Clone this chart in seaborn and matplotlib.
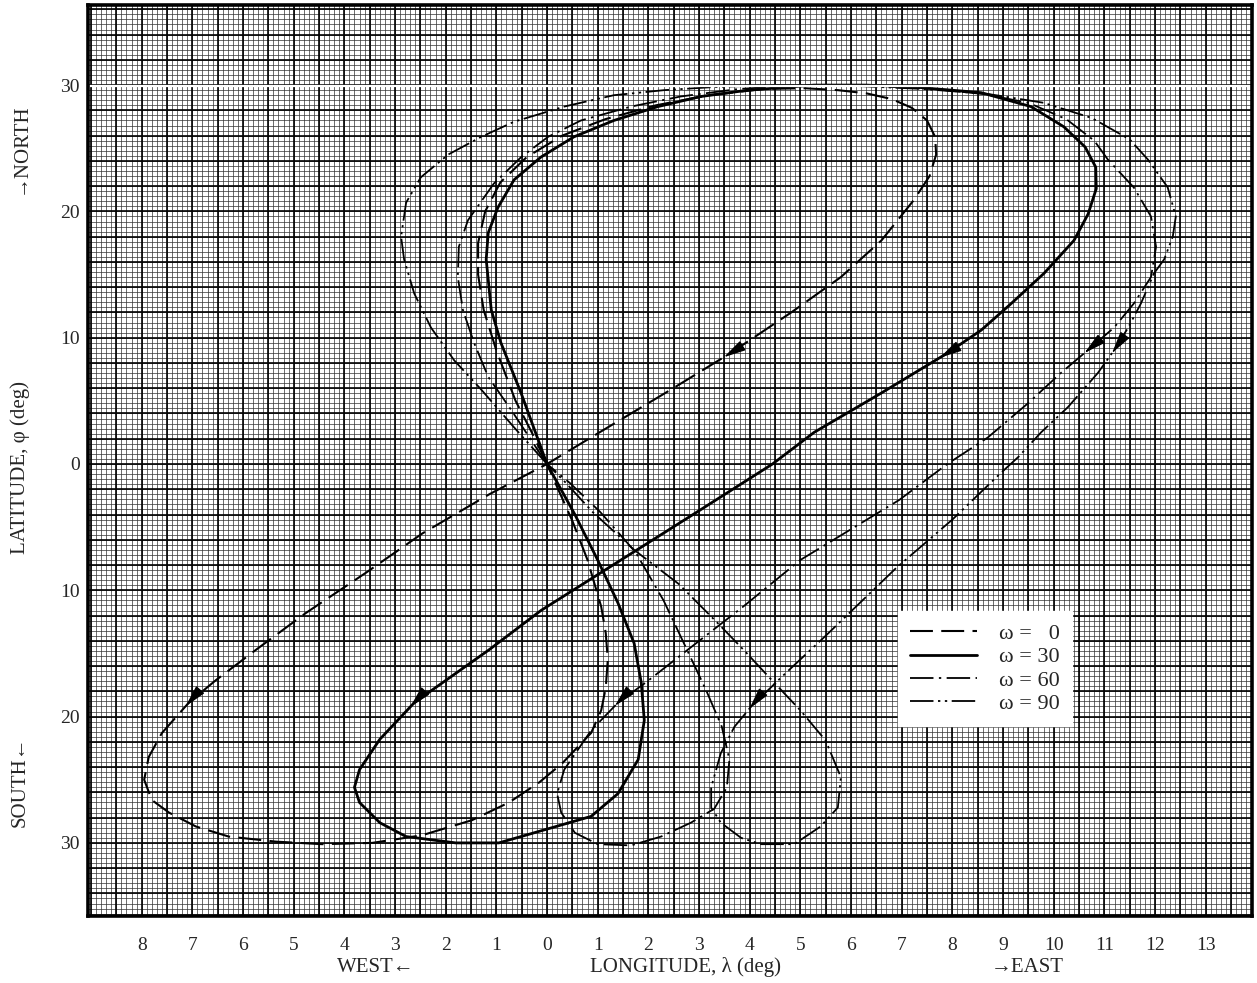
import numpy as np
import pandas as pd
import seaborn as sns
import matplotlib
matplotlib.use("Agg")
import matplotlib.pyplot as plt
from matplotlib.lines import Line2D
from matplotlib.ticker import FuncFormatter

# ground tracks: (longitude deg, east +), (latitude deg)
w0 = [(0, 0), (-0.3, 2.5), (-0.62, 5.0), (-1.0, 9.0), (-1.25, 12.2), (-1.36, 15.0),
      (-1.36, 17.5), (-1.22, 20.0), (-0.92, 22.3), (-0.4, 24.3), (0.3, 26.0), (1.15, 27.3),
      (2.15, 28.4), (3.2, 29.2), (4.3, 29.7), (5.1, 29.75), (5.74, 29.6), (6.3, 29.35),
      (6.8, 28.9), (7.2, 28.2), (7.5, 27.2), (7.66, 25.9), (7.68, 24.5), (7.55, 22.8),
      (7.24, 20.9), (6.6, 17.7), (5.8, 14.8), (4.82, 12.0), (3.63, 8.8), (2.45, 5.9),
      (1.2, 2.9), (0, 0), (-1.14, -2.4), (-2.46, -5.5), (-3.57, -8.6), (-4.76, -11.8),
      (-5.74, -14.7), (-6.53, -17.1), (-7.07, -18.9), (-7.6, -21.3), (-7.86, -23.2),
      (-7.95, -25.0), (-7.8, -26.6), (-7.46, -27.6), (-6.93, -28.7), (-6.28, -29.5),
      (-5.35, -29.9), (-4.44, -30.1), (-3.45, -30.0), (-2.47, -29.4), (-1.48, -28.2),
      (-0.75, -26.8), (-0.15, -25.2), (0.3, -23.7), (0.87, -21.3), (1.07, -19.5),
      (1.16, -17.7), (1.2, -15.5), (1.16, -13.4), (1.07, -11.3), (0.8, -7.6), (0.5, -4.5),
      (0.22, -2.0), (0, 0)]

w30 = [(0, 0), (-0.51, 5.6), (-0.91, 9.6), (-1.1, 12.2), (-1.2, 16.2), (-1.16, 18.3),
       (-0.97, 20.3), (-0.65, 22.5), (-0.12, 24.3), (0.53, 25.9), (1.32, 27.2), (2.19, 28.3),
       (3.04, 29.1), (3.97, 29.6), (5.27, 30.0), (6.3, 30.0), (7.24, 29.85), (8.57, 29.4),
       (9.55, 28.3), (10.2, 26.7), (10.62, 25.1), (10.83, 23.5), (10.84, 21.8), (10.68, 19.8),
       (10.4, 17.7), (9.81, 15.1), (9.16, 12.7), (8.57, 10.6), (7.91, 8.8), (6.59, 5.6),
       (5.27, 2.5), (4.45, 0.0), (3.04, -3.6), (1.46, -7.6), (-0.12, -11.6), (-1.14, -14.7),
       (-2.62, -18.9), (-3.3, -21.8), (-3.7, -24.2), (-3.8, -25.6), (-3.7, -26.8),
       (-3.3, -28.4), (-2.78, -29.5), (-1.8, -30.0), (-0.95, -30.0), (0.18, -28.7),
       (0.87, -27.9), (1.4, -26.1), (1.8, -23.4), (1.92, -20.3), (1.86, -17.3), (1.72, -14.2),
       (1.4, -11.0), (1.0, -7.6), (0.55, -4.0), (0.22, -1.6), (0, 0)]

w60 = [(0, 0), (-0.71, 4.3), (-1.16, 6.9), (-1.44, 9.6), (-1.66, 12.2), (-1.76, 14.8),
       (-1.74, 17.2), (-1.56, 19.3), (-1.05, 22.2), (-0.51, 24.3), (0.02, 25.9), (0.67, 27.2),
       (1.66, 28.3), (2.64, 29.1), (3.8, 29.7), (5.0, 30.0), (6.3, 29.95), (7.6, 29.7),
       (8.6, 29.3), (9.5, 28.6), (10.25, 27.3), (10.8, 25.6), (11.07, 24.1), (11.58, 21.9),
       (11.92, 19.6), (12.02, 17.2), (11.92, 14.8), (11.58, 12.7), (11.19, 10.8),
       (10.67, 9.0), (10.14, 7.2), (9.49, 4.8), (8.7, 2.1), (7.9, 0.0), (6.95, -2.85),
       (5.0, -7.6), (3.9, -11.2), (2.78, -14.7), (1.95, -17.3), (1.4, -18.9), (0.87, -21.1),
       (0.34, -24.2), (0.2, -26.1), (0.28, -27.6), (0.55, -29.2), (1.0, -30.1), (1.66, -30.2),
       (2.25, -29.5), (2.84, -28.4), (3.3, -27.3), (3.55, -25.6), (3.6, -23.4), (3.45, -20.8),
       (3.15, -18.0), (2.75, -14.6), (2.3, -10.8), (1.75, -7.0), (1.05, -3.8), (0.45, -1.5),
       (0, 0)]

w90 = [(0, 0), (-0.65, 2.9), (-1.3, 5.9), (-1.83, 8.2), (-2.29, 10.8), (-2.62, 13.5),
       (-2.82, 16.2), (-2.88, 18.0), (-2.78, 20.7), (-2.49, 22.7), (-1.95, 24.5), (-1.3, 25.9),
       (-0.65, 27.1), (0.34, 28.3), (1.32, 29.2), (2.31, 29.6), (3.3, 29.85), (4.5, 30.0),
       (6.0, 29.95), (7.4, 29.7), (8.7, 29.3), (9.8, 28.6), (10.75, 27.4), (11.5, 25.7),
       (11.86, 24.1), (12.25, 21.9), (12.41, 19.6), (12.35, 18.0), (12.18, 16.2),
       (11.98, 15.1), (11.72, 12.7), (11.47, 10.8), (11.19, 9.0), (10.87, 7.2), (10.28, 4.5),
       (9.75, 2.5), (9.3, 0.55), (8.96, -0.7), (8.0, -4.4), (6.9, -8.2), (5.5, -13.6),
       (4.7, -16.6), (4.03, -19.2), (3.7, -20.8), (3.43, -22.9), (3.24, -25.6), (3.24, -27.2),
       (3.43, -28.4), (3.83, -29.6), (4.22, -30.1), (4.88, -30.1), (5.4, -28.7), (5.74, -27.2),
       (5.8, -24.8), (5.5, -21.9), (5.0, -19.5), (4.48, -17.3), (3.9, -14.8), (3.37, -12.6),
       (2.6, -9.5), (1.72, -6.8), (0.9, -3.8), (0.35, -1.4), (0, 0)]

# where the direction arrows sit on each track
arrows = {
    "0": [(3.63, 8.8), (-7.07, -18.9)],
    "30": [(7.91, 8.8), (-2.62, -18.9)],
    "60": [(10.67, 9.0), (1.4, -18.9)],
    "90": [(11.19, 9.0), (4.03, -19.2)],
}

omegas = ["0", "30", "60", "90"]
labels = ["\u03c9 =   0", "\u03c9 = 30", "\u03c9 = 60", "\u03c9 = 90"]
tracks = dict(zip(omegas, [w0, w30, w60, w90]))

x_ticks = list(range(-8, 14))
y_ticks = [-30, -20, -10, 0, 10, 20, 30]

rows = []
for om, pts in tracks.items():
    for k, (lo, la) in enumerate(pts):
        rows.append({"omega": om, "step": k, "lon": lo, "lat": la})
df = pd.DataFrame(rows)

sns.set_style("white")
plt.rcParams["font.family"] = ["Liberation Serif", "DejaVu Serif"]

dash_map = {"0": (11, 4), "30": "", "60": (13, 3, 1.3, 3),
            "90": (13, 2.5, 1.3, 2.5, 1.3, 2.5)}
widths = {"0": 1.5, "30": 2.0, "60": 1.3, "90": 1.3}

fig = plt.figure(figsize=(12.57, 9.83), dpi=100)
ax = fig.add_axes([88 / 1257, 1 - 916 / 983, (1252 - 88) / 1257, (916 - 5) / 983])
ax.set_xlim((88 - 547) / 50.67, (1252 - 547) / 50.67)
ax.set_ylim((464 - 916) / 12.63, (464 - 5) / 12.63)

# graph paper
ax.vlines(np.arange(-9.0, 14.01, 0.1), -40, 40, colors="#333333", lw=0.5, zorder=0)
ax.hlines(np.arange(-36.0, 36.01, 0.4), -10, 15, colors="#333333", lw=0.5, zorder=0)
ax.vlines(np.arange(-9.0, 14.01, 0.5), -40, 40, colors="black", lw=1.2, zorder=0.5)
ax.hlines(np.arange(-36, 37, 2), -10, 15, colors="black", lw=1.2, zorder=0.5)

sns.lineplot(data=df, x="lon", y="lat", style="omega", style_order=omegas,
             dashes=dash_map, sort=False, estimator=None, color="black",
             lw=1.4, legend=False, ax=ax, zorder=3)
for om, line in zip(omegas, ax.lines):
    line.set_linewidth(widths[om])
    line.set_dash_capstyle("butt")

for om, pts_a in arrows.items():
    pts = np.array(tracks[om], dtype=float)
    for p in pts_a:
        i = int(np.argmin(np.hypot(pts[:, 0] - p[0], pts[:, 1] - p[1])))
        q = pts[i + 1]
        tip = (p[0] + 0.12 * (q[0] - p[0]), p[1] + 0.12 * (q[1] - p[1]))
        ax.annotate("", xy=tip, xytext=p,
                    arrowprops=dict(arrowstyle="-|>,head_length=0.9,head_width=0.22",
                                    fc="black", ec="black", lw=1.0,
                                    shrinkA=0, shrinkB=0, mutation_scale=15),
                    zorder=4)

# scan artefact along the 30 deg line
ax.axhline(29.95, color="white", lw=1.6, zorder=5)

ax.set_xticks(x_ticks)
ax.set_yticks(y_ticks)
ax.xaxis.set_major_formatter(FuncFormatter(lambda v, p: f"{abs(int(round(v)))}"))
ax.yaxis.set_major_formatter(FuncFormatter(lambda v, p: f"{abs(int(round(v)))}"))
ax.tick_params(axis="x", length=0, pad=15, labelsize=14)
ax.tick_params(axis="y", length=0, pad=6, labelsize=14)
ax.set_xlabel("")
ax.set_ylabel("")
for s in ax.spines.values():
    s.set_linewidth(2.6)
    s.set_color("black")
    s.set_zorder(6)

handles = [Line2D([0], [0], color="black", lw=widths[om],
                  dashes=(dash_map[om] if dash_map[om] else (None, None)))
           for om in omegas]
for h, om in zip(handles, omegas):
    if dash_map[om] == "":
        h.set_linestyle("-")
leg = ax.legend(handles, labels, loc="lower left",
                bbox_to_anchor=((898 - 88) / 1164, (916 - 726) / 911),
                frameon=True, fancybox=False, framealpha=1, edgecolor="white",
                facecolor="white", fontsize=16, handlelength=3.0, handletextpad=1.0,
                labelspacing=0.12, borderpad=0.55, borderaxespad=0)
leg.set_zorder(7)

W, H = 1257, 983
fs = 15
fig.text(376 / W, 1 - 967 / H, "WEST\u2190", ha="center", va="center", fontsize=fs)
fig.text(686 / W, 1 - 967 / H, "LONGITUDE, \u03bb (deg)", ha="center", va="center", fontsize=fs)
fig.text(1027 / W, 1 - 967 / H, "\u2192EAST", ha="center", va="center", fontsize=fs)
fig.text(20 / W, 1 - 148 / H, "\u2192NORTH", ha="center", va="center", rotation=90, fontsize=fs)
fig.text(20 / W, 1 - 467 / H, "LATITUDE, \u03c6 (deg)", ha="center", va="center", rotation=90, fontsize=fs)
fig.text(20 / W, 1 - 782 / H, "SOUTH\u2190", ha="center", va="center", rotation=90, fontsize=fs)

fig.savefig("out.png", dpi=100, facecolor="white")
